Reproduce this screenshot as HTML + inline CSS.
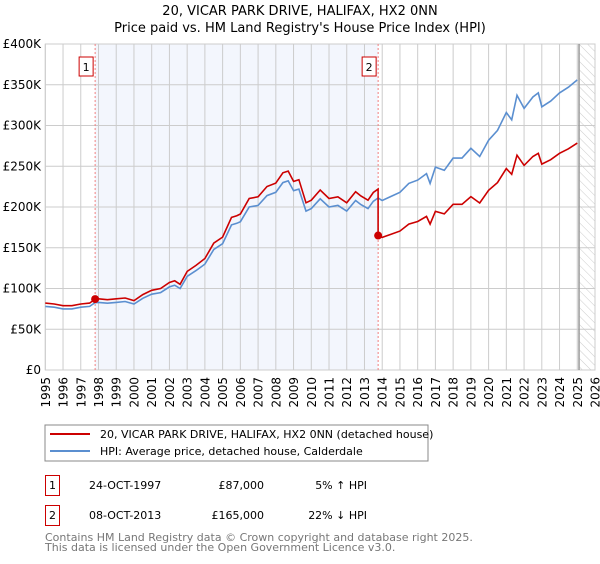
<!DOCTYPE html>
<html><head><meta charset="utf-8">
<style>
body{margin:0;background:#fff;font-family:"DejaVu Sans","Liberation Sans",sans-serif;}
svg text{font-family:"DejaVu Sans","Liberation Sans",sans-serif;}
</style></head>
<body>
<svg id="chart" width="600" height="560" viewBox="0 0 600 560" xmlns="http://www.w3.org/2000/svg">
<defs>
<pattern id="hatch" width="6" height="6" patternUnits="userSpaceOnUse" patternTransform="rotate(-45)">
<line x1="0" y1="0" x2="0" y2="6" stroke="#ccc" stroke-width="1"/>
</pattern>
</defs>
<text x="300" y="15" text-anchor="middle" font-size="13">20, VICAR PARK DRIVE, HALIFAX, HX2 0NN</text>
<text x="300" y="32" text-anchor="middle" font-size="13">Price paid vs. HM Land Registry's House Price Index (HPI)</text>
<g id="plot"></g>
<rect x="45" y="425" width="383" height="36" fill="#fff" stroke="#888"/>
<line x1="50" y1="434" x2="90" y2="434" stroke="#cc0000" stroke-width="2"/>
<text x="100" y="438" font-size="11">20, VICAR PARK DRIVE, HALIFAX, HX2 0NN (detached house)</text>
<line x1="50" y1="451" x2="90" y2="451" stroke="#5b8fd0" stroke-width="2"/>
<text x="100" y="455" font-size="11">HPI: Average price, detached house, Calderdale</text>
<g>
<rect x="45.5" y="475.5" width="14" height="20" fill="#fff" stroke="#cc0000"/>
<text x="52.5" y="489" text-anchor="middle" font-size="11">1</text>
<text x="89" y="489" font-size="11">24-OCT-1997</text>
<text x="264" y="489" text-anchor="end" font-size="11">£87,000</text>
<text x="367" y="489" text-anchor="end" font-size="11">5% ↑ HPI</text>
</g>
<g>
<rect x="45.5" y="505.5" width="14" height="20" fill="#fff" stroke="#cc0000"/>
<text x="52.5" y="519" text-anchor="middle" font-size="11">2</text>
<text x="89" y="519" font-size="11">08-OCT-2013</text>
<text x="264" y="519" text-anchor="end" font-size="11">£165,000</text>
<text x="367" y="519" text-anchor="end" font-size="11">22% ↓ HPI</text>
</g>
<text x="45" y="541" font-size="11" fill="#777">Contains HM Land Registry data © Crown copyright and database right 2025.</text>
<text x="45" y="551" font-size="11" fill="#777">This data is licensed under the Open Government Licence v3.0.</text>
</svg>
<script>
const hpiYears=[1995.0,1995.5,1996.0,1996.5,1997.0,1997.5,1997.81,1998.0,1998.5,1999.0,1999.5,2000.0,2000.5,2001.0,2001.5,2002.0,2002.3,2002.6,2003.0,2003.5,2004.0,2004.5,2005.0,2005.5,2005.8,2006.0,2006.5,2007.0,2007.5,2008.0,2008.4,2008.7,2009.0,2009.3,2009.7,2010.0,2010.5,2011.0,2011.5,2012.0,2012.5,2012.8,2013.2,2013.5,2013.77,2014.0,2014.5,2015.0,2015.5,2016.0,2016.5,2016.7,2017.0,2017.5,2018.0,2018.5,2019.0,2019.5,2020.0,2020.5,2021.0,2021.3,2021.6,2022.0,2022.5,2022.8,2023.0,2023.5,2024.0,2024.5,2025.0];
const hpiValues=[78,77,75,75,77,78,82.7,83,82,83,84,81,88,93,95,102,104,100,115,122,130,148,155,178,180,182,200,202,214,218,230,232,220,222,195,198,210,200,202,195,208,203,198,207,211,208,213,218,229,233,241,229,249,245,260,260,272,262,282,294,316,307,337,321,335,340,323,330,340,347,356];
const saleYears=[1997.81,2013.77];
const salePrices=[87,165];
const yTicks=[0,50,100,150,200,250,300,350,400];
const yTickLabels=["£0","£50K","£100K","£150K","£200K","£250K","£300K","£350K","£400K"];
const xTicks=[1995,1996,1997,1998,1999,2000,2001,2002,2003,2004,2005,2006,2007,2008,2009,2010,2011,2012,2013,2014,2015,2016,2017,2018,2019,2020,2021,2022,2023,2024,2025,2026];

const NS="http://www.w3.org/2000/svg";
const L=45.3,R=595,T=44,B=370;
const X=y=>L+(y-1995)*(R-L)/31;
const Y=v=>B-v*(B-T)/400;
const g=document.getElementById('plot');
function mk(tag,attrs,parent){const e=document.createElementNS(NS,tag);for(const k in attrs)e.setAttribute(k,attrs[k]);(parent||g).appendChild(e);return e;}

let bg=mk('rect',{x:L,y:T,width:R-L,height:B-T,fill:'#fff',stroke:'#ccc'});


let sh=mk('rect',{x:X(saleYears[0]),y:T,width:X(saleYears[1])-X(saleYears[0]),height:B-T,fill:'#eef2fc',opacity:0.7});


let ht=mk('rect',{x:X(2025.1),y:T,width:R-X(2025.1),height:B-T,fill:'url(#hatch)'});



xTicks.forEach(t=>{
  let ln=mk('line',{x1:X(t),x2:X(t),y1:T,y2:B,stroke:'#ccc'});
  
  
  const tx0=X(t)+4.5, ty0=377;
  let tx=mk('text',{x:tx0,y:ty0,'text-anchor':'end','font-size':12,transform:'rotate(-90 '+tx0+' '+ty0+')'});
  
  
  tx.textContent=t;
});
yTicks.forEach((t,i)=>{
  let ln=mk('line',{x1:L,x2:R,y1:Y(t),y2:Y(t),stroke:'#ccc'});
  
  
  let tx=mk('text',{x:41,y:Y(t)+4,'text-anchor':'end','font-size':12});
  
  
  tx.textContent=yTickLabels[i];
});
let vl=mk('line',{x1:X(2025.1),x2:X(2025.1),y1:T,y2:B,stroke:'#999','stroke-width':1.5});



saleYears.forEach((s,i)=>{
  let ln=mk('line',{x1:X(s),x2:X(s),y1:T,y2:B,stroke:'#f08080','stroke-dasharray':'2,2'});
  
  
  let bx=mk('rect',{x:X(s)-16,y:57,width:14,height:19,fill:'#fff',stroke:'#cc0000'});
  
  
  let tx=mk('text',{x:X(s)-9,y:71,'text-anchor':'middle','font-size':11});
  
  
  tx.textContent=i+1;
});

let hp=hpiYears.map((y,i)=>(i?'L':'M')+X(y).toFixed(1)+','+Y(hpiValues[i]).toFixed(1)).join(' ');
let hl=mk('path',{d:hp,fill:'none',stroke:'#5b8fd0','stroke-width':1.6});



function hpiAt(t){for(let i=1;i<hpiYears.length;i++){if(t<=hpiYears[i]){const f=(t-hpiYears[i-1])/(hpiYears[i]-hpiYears[i-1]);return hpiValues[i-1]+f*(hpiValues[i]-hpiValues[i-1]);}}return hpiValues[hpiValues.length-1];}
let pts=[];
hpiYears.forEach((y,i)=>{
  let idx=0;
  for(let j=0;j<saleYears.length;j++)if(y>=saleYears[j]-0.001){idx=j;}
  const v=hpiValues[i]*salePrices[idx]/hpiAt(saleYears[idx]);
  if(idx===1&&pts.length&&Math.abs(y-saleYears[1])<0.001){pts.push([y,hpiValues[i]*salePrices[0]/hpiAt(saleYears[0])]);}
  pts.push([y,v]);
});
let pp=pts.map((p,i)=>(i?'L':'M')+X(p[0]).toFixed(1)+','+Y(p[1]).toFixed(1)).join(' ');
let pl=mk('path',{d:pp,fill:'none',stroke:'#cc0000','stroke-width':1.6});



saleYears.forEach((s,i)=>{
  let c=mk('circle',{cx:X(s),cy:Y(salePrices[i]),r:4,fill:'#cc0000'});
  
  
});
</script>
</body></html>
